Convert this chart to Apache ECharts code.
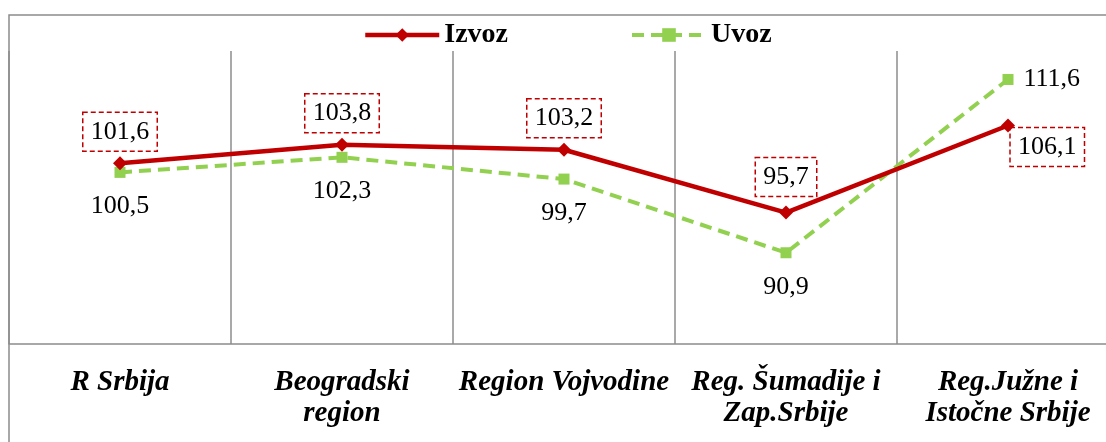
<!DOCTYPE html>
<html>
<head>
<meta charset="utf-8">
<script src="https://cdn.jsdelivr.net/npm/echarts@6/dist/echarts.min.js"></script>
<style>
html,body{margin:0;padding:0;background:#fff;}
#c{width:1106px;height:442px;}
</style>
</head>
<body>
<div id="c"></div>
<script>
var categories = ['R Srbija', 'Beogradski\nregion', 'Region Vojvodine', 'Reg. Šumadije i\nZap.Srbije', 'Reg.Južne i\nIstočne Srbije'];
var izvoz = [101.6, 103.8, 103.2, 95.7, 106.1];
var uvoz = [100.5, 102.3, 99.7, 90.9, 111.6];
var seriesNames = ['Izvoz', 'Uvoz'];

var RED = '#C00000', GREEN = '#92D050', GRID = '#8c8c8c';
var SERIF = '"Liberation Serif", "Times New Roman", serif';
function fmt(v){ return String(v.toFixed(1)).replace('.', ','); }

var redLabel = {
  show: true, position: 'top', distance: 5,
  fontFamily: SERIF, fontSize: 26, lineHeight: 27, color: '#000',
  borderColor: RED, borderWidth: 1.5, borderType: [5, 3], padding: [6, 8],
  formatter: function(p){ return fmt(p.value); }
};
var greenLabel = {
  show: true, position: 'bottom', distance: 15,
  fontFamily: SERIF, fontSize: 26, lineHeight: 27, color: '#000',
  formatter: function(p){ return fmt(p.value); }
};

var izvozData = izvoz.map(function(v, i){
  var d = { value: v };
  if (i === 3) d.label = { distance: 9 };
  if (i === izvoz.length - 1) d.label = { position: [9, 9] };
  return d;
});
var uvozData = uvoz.map(function(v, i){
  var d = { value: v };
  if (i === uvoz.length - 1) d.label = { position: 'right', distance: 10 };
  return d;
});

var chart = echarts.init(document.getElementById('c'), null, {renderer: 'canvas'});
chart.setOption({
  animation: false,
  backgroundColor: '#fff',
  graphic: [{
    type: 'rect', silent: true, z: 0,
    shape: { x: 9, y: 15, width: 1200, height: 500 },
    style: { fill: 'none', stroke: GRID, lineWidth: 1.5 }
  }],
  legend: {
    top: 20, left: 363, padding: 0, itemGap: 122,
    itemWidth: 74, itemHeight: 17,
    lineStyle: { width: 'inherit' },
    textStyle: { fontFamily: SERIF, fontSize: 28, fontWeight: 'bold', color: '#000', lineHeight: 30 },
    data: seriesNames
  },
  grid: { left: 9, top: 51, width: 1110, bottom: 98, containLabel: false, outerBoundsMode: 'none' },
  xAxis: {
    type: 'category', data: categories, boundaryGap: true,
    axisLine: { show: true, lineStyle: { color: GRID, width: 1.5 } },
    axisTick: { show: false },
    splitLine: { show: true, lineStyle: { color: GRID, width: 1.5 } },
    axisLabel: {
      interval: 0, margin: 23, color: '#000',
      fontFamily: SERIF, fontSize: 29, fontWeight: 'bold', fontStyle: 'italic', lineHeight: 31
    }
  },
  yAxis: {
    type: 'value', min: 80, max: 115, show: false,
    splitLine: { show: false }
  },
  series: [{
    name: seriesNames[0], type: 'line', data: izvozData,
    symbol: 'diamond', symbolSize: 14,
    lineStyle: { color: RED, width: 4.5 },
    itemStyle: { color: RED },
    label: redLabel, z: 3
  }, {
    name: seriesNames[1], type: 'line', data: uvozData,
    symbol: 'rect', symbolSize: 11,
    lineStyle: { color: GREEN, width: 4, type: [12, 7] },
    itemStyle: { color: GREEN },
    label: greenLabel, z: 2
  }]
});
</script>
</body>
</html>
